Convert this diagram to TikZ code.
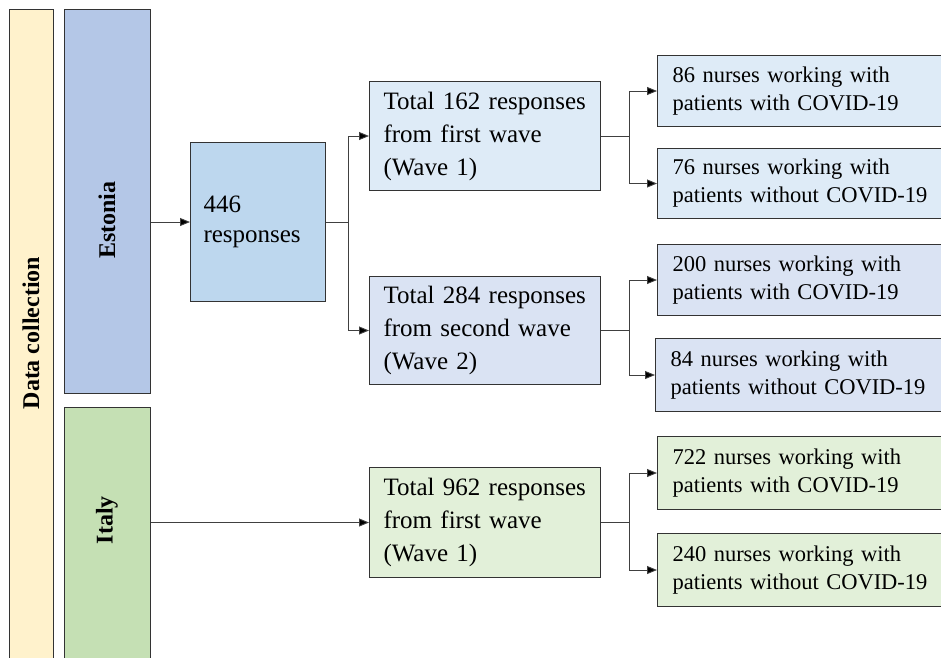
\documentclass[tikz,border=0pt]{standalone}
\usepackage{fontspec}
\setmainfont{Liberation Serif}
\usetikzlibrary{arrows.meta}

\definecolor{collectfill}{HTML}{FFF2CC}
\definecolor{estfill}{HTML}{B4C7E7}
\definecolor{itafill}{HTML}{C5E0B4}
\definecolor{sumfill}{HTML}{BDD7EE}
\definecolor{waveonefill}{HTML}{DEEBF7}
\definecolor{wavetwofill}{HTML}{DAE3F3}
\definecolor{italyfill}{HTML}{E2F0D9}

\tikzset{
    bar/.style={draw=black!80, line width=1.2pt, anchor=north west, inner sep=0pt},
    barlabel/.style={rotate=90, font=\fontsize{24}{28}\selectfont\bfseries},
    wavebox/.style={draw=black!80, line width=1pt, anchor=north west, inner sep=0pt,
        minimum width=231pt, text width=203pt, align=left,
        font=\fontsize{25}{33}\selectfont},
    nursebox/.style={draw=black!80, line width=1pt, anchor=north west, inner sep=0pt,
        minimum width=290pt, text width=260pt, align=left,
        font=\fontsize{22.5}{28}\selectfont},
    link/.style={draw=black!75, line width=0.9pt, -{Triangle[length=10pt, width=8pt, fill=black]}}
}

\begin{document}
\begin{tikzpicture}[x=1pt, y=-1pt]
    \useasboundingbox (0,0) rectangle (941,657);

    % Side bars
    \node[bar, fill=collectfill, minimum width=44pt, minimum height=660pt] (collect) at (9,9) {};
    \node[barlabel] (collectlabel) at (31,333) {Data collection};
    \node[bar, fill=estfill, minimum width=86pt, minimum height=384pt] (estonia) at (64,9) {};
    \node[barlabel] (estonialabel) at (107,220) {Estonia};
    \node[bar, fill=itafill, minimum width=86pt, minimum height=260pt] (italy) at (64,407) {};
    \node[barlabel] (italylabel) at (107,520) {Italy};

    % Estonia: all responses
    \node[wavebox, fill=sumfill, minimum width=135pt, minimum height=159pt, text width=109pt,
        font=\fontsize{25}{30}\selectfont] (total) at (190,142) {446\\responses\\[-8pt]};

    % Waves
    \node[wavebox, fill=waveonefill, minimum height=109pt] (waveone) at (369,81)
        {Total 162 responses\\from first wave\\(Wave 1)};
    \node[wavebox, fill=wavetwofill, minimum height=108pt] (wavetwo) at (369,276)
        {Total 284 responses\\from second wave\\(Wave 2)};
    \node[wavebox, fill=italyfill, minimum height=110pt] (waveita) at (369,467)
        {Total 962 responses\\from first wave\\(Wave 1)};

    % Nurse groups
    \node[nursebox, fill=waveonefill, minimum height=71pt] (oneA) at (657,55)
        {86 nurses working with\\patients with COVID-19};
    \node[nursebox, fill=waveonefill, minimum height=70pt] (oneB) at (657,148)
        {76 nurses working with\\patients without COVID-19};
    \node[nursebox, fill=wavetwofill, minimum height=71pt] (twoA) at (657,244)
        {200 nurses working with\\patients with COVID-19};
    \node[nursebox, fill=wavetwofill, minimum height=73pt] (twoB) at (655,338)
        {84 nurses working with\\patients without COVID-19};
    \node[nursebox, fill=italyfill, minimum height=73pt] (itaA) at (657,436)
        {722 nurses working with\\patients with COVID-19};
    \node[nursebox, fill=italyfill, minimum height=73pt] (itaB) at (657,533)
        {240 nurses working with\\patients without COVID-19};

    % Connectors
    \draw[link] (estonia.east |- total.west) -- (total.west);
    \draw[link] (total.east) -- ++(22,0) |- (waveone.west);
    \draw[link] (total.east) -- ++(22,0) |- (wavetwo.west);
    \draw[link] (waveone.east) -- ++(28,0) |- (oneA.west);
    \draw[link] (waveone.east) -- ++(28,0) |- (oneB.west);
    \draw[link] (wavetwo.east) -- ++(28,0) |- (twoA.west);
    \draw[link] (wavetwo.east) -- ++(28,0) |- (twoB.west);
    \draw[link] (italy.east |- waveita.west) -- (waveita.west);
    \draw[link] (waveita.east) -- ++(28,0) |- (itaA.west);
    \draw[link] (waveita.east) -- ++(28,0) |- (itaB.west);

\end{tikzpicture}
\end{document}
